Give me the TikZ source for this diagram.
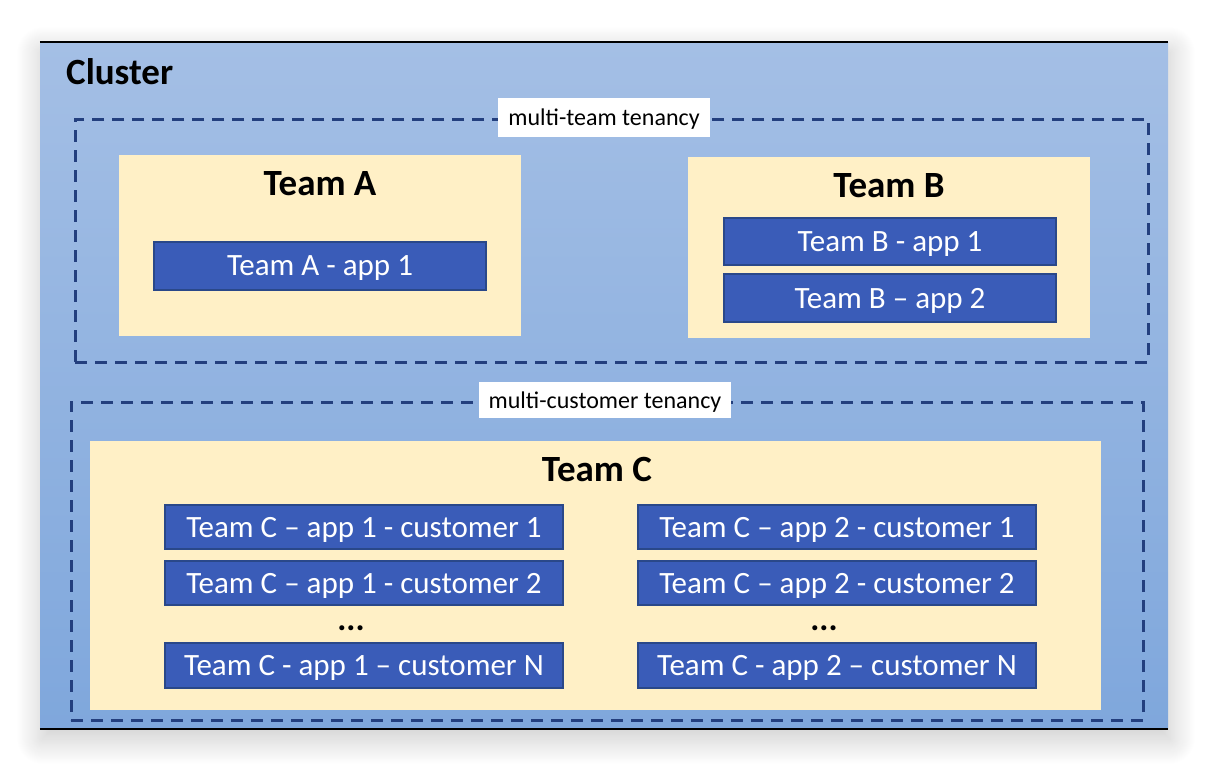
\documentclass[tikz,border=0pt]{standalone}
\usepackage{fontspec}
\setmainfont{Carlito}
\usetikzlibrary{shadows.blur}
\definecolor{clustertop}{HTML}{A4BFE5}
\definecolor{clusterbot}{HTML}{7FA7DC}
\definecolor{dashcol}{HTML}{233F7E}
\definecolor{teamfill}{HTML}{FFF0C6}
\definecolor{appfill}{HTML}{3A5CB8}
\definecolor{appline}{HTML}{2A4889}
\tikzset{
  clusterbox/.style={rectangle, inner sep=0pt, top color=clustertop, bottom color=clusterbot, draw=none,
    blur shadow={shadow xshift=2pt, shadow yshift=-10pt, shadow blur radius=26pt, shadow opacity=22, shadow blur steps=30}},
  tenancy/.style={rectangle, inner sep=0pt, draw=dashcol, line width=3pt, dash pattern=on 12pt off 8pt},
  tlabel/.style={rectangle, fill=white, inner sep=0pt, text depth=0pt, font=\fontsize{24}{28}\selectfont},
  teambox/.style={rectangle, fill=teamfill, inner sep=0pt},
  heading/.style={font=\fontsize{37}{42}\selectfont\bfseries, inner sep=0pt},
  appbox/.style={rectangle, fill=appfill, draw=appline, line width=1.6pt, inner sep=0pt, text=white,
    text depth=0pt, font=\fontsize{31}{36}\selectfont},
  dots/.style={font=\fontsize{34}{38}\selectfont\bfseries, inner sep=0pt}
}
\begin{document}
\begin{tikzpicture}[x=1pt,y=-1pt]
\useasboundingbox (0,0) rectangle (1208,774);
\node[clusterbox, minimum width=1128pt, minimum height=687pt] (cluster) at (604,385.5) {};
\draw[black, line width=1.5pt] (cluster.north west) -- (cluster.north east);
\draw[black, line width=1.5pt] (cluster.south west) -- (cluster.south east);
\node[heading, anchor=base west] (clusterlabel) at (66,84) {Cluster};

% tenancy boxes
\node[tenancy, minimum width=1073pt, minimum height=243pt] (mteam) at (611.5,240.5) {};
\node[tlabel, minimum width=212pt, minimum height=39pt] (mteamlabel) at (604,117.5) {multi-team tenancy};
\node[tenancy, minimum width=1072pt, minimum height=318pt] (mcust) at (607,561) {};
\node[tlabel, minimum width=252pt, minimum height=36pt] (mcustlabel) at (605,400) {multi-customer tenancy};

% Team A
\node[teambox, minimum width=402pt, minimum height=181pt] (teamA) at (320,245.5) {};
\node[heading] (teamAlabel) at (320,184) {Team A};
\node[appbox, minimum width=332pt, minimum height=48pt] (a1) at (320,266) {Team A - app 1};

% Team B
\node[teambox, minimum width=402pt, minimum height=181pt] (teamB) at (889,247.5) {};
\node[heading] (teamBlabel) at (889,186) {Team B};
\node[appbox, minimum width=332pt, minimum height=47pt] (b1) at (890,241.5) {Team B - app 1};
\node[appbox, minimum width=332pt, minimum height=48pt] (b2) at (890,298) {Team B -- app 2};

% Team C
\node[teambox, minimum width=1011pt, minimum height=269pt] (teamC) at (595.5,575.5) {};
\node[heading] (teamClabel) at (597,469) {Team C};
\node[appbox, minimum width=398pt, minimum height=44pt] (c11) at (364,527) {Team C -- app 1 - customer 1};
\node[appbox, minimum width=398pt, minimum height=44pt] (c12) at (364,583) {Team C -- app 1 - customer 2};
\node[dots] (d1) at (351,628) {...};
\node[appbox, minimum width=398pt, minimum height=45pt] (c1n) at (364,665.5) {Team C - app 1 -- customer N};
\node[appbox, minimum width=398pt, minimum height=44pt] (c21) at (837,527) {Team C -- app 2 - customer 1};
\node[appbox, minimum width=398pt, minimum height=44pt] (c22) at (837,583) {Team C -- app 2 - customer 2};
\node[dots] (d2) at (824,628) {...};
\node[appbox, minimum width=398pt, minimum height=45pt] (c2n) at (837,665.5) {Team C - app 2 -- customer N};
\end{tikzpicture}
\end{document}
